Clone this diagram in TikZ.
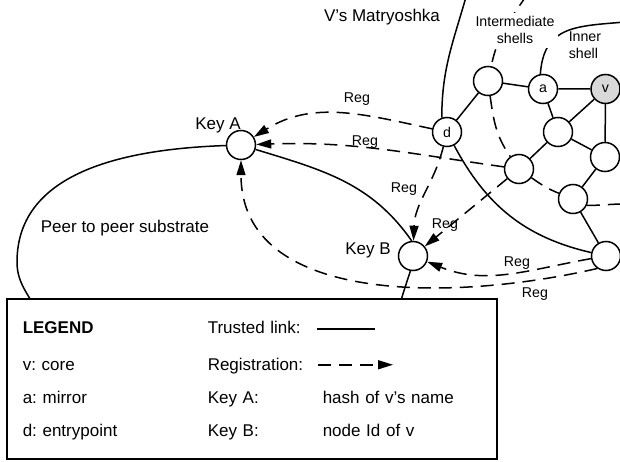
\documentclass[tikz,border=0pt]{standalone}
\usepackage{fontspec}
\setmainfont{Liberation Sans}
\usepackage{xcolor}
\usepackage{tikz}
\usetikzlibrary{arrows.meta,calc,positioning,matrix}
\definecolor{coregray}{RGB}{217,217,217}
\newcommand{\bigfont}{\fontsize{17}{20}\selectfont}
\newcommand{\smallfont}{\fontsize{14.2}{16.7}\selectfont}
\frenchspacing

\begin{document}
\begin{tikzpicture}[
    x=1pt, y=-1pt,
    line width=1.5pt,
    font=\bigfont,
    peer/.style={circle, draw, fill=white, minimum size=29pt, inner sep=0, font=\smallfont},
    txt/.style={inner sep=0, anchor=base},
    small/.style={txt, font=\smallfont},
    reg/.style={dash pattern=on 13pt off 8pt, -{Triangle[length=15pt, width=9pt]}},
    shell/.style={dash pattern=on 13pt off 8pt},
    legendtable/.style={
        matrix of nodes,
        anchor=north west,
        inner sep=0,
        row sep=17pt,
        column sep=0pt,
        nodes in empty cells,
        nodes={rectangle, inner sep=0, anchor=base west, text height=12pt, text depth=4pt, align=left},
    row 1 column 1/.style={nodes={font=\bigfont\bfseries}},
    column 1/.style={nodes={text width=185pt}},
    column 2/.style={nodes={text width=115pt}},
    column 3/.style={nodes={text width=150pt}}   }]
\useasboundingbox (0,0) rectangle (620,462);

\node[peer] (keyA) at (241,145) {};
\node[peer] (keyB) at (413,256) {};
\node[peer] (d) at (447,132) {d};
\node[peer] (mid1) at (488,81) {};
\node[peer] (a) at (543,89) {a};
\node[peer, fill=coregray] (v) at (605.5,89) {v};
\node[peer] (in1) at (558,132) {};
\node[peer] (in2) at (605,157) {};
\node[peer] (mid2) at (519,169) {};
\node[peer] (mid3) at (573,199) {};
\node[peer] (out1) at (606,256) {};

\coordinate (outerTop) at (466,-3);
\coordinate (midTop) at (527,-5);
\coordinate (midEnd) at (625,204);
\coordinate (innerEnd) at (625,22);
\coordinate (subW) at (17,262);
\coordinate (subSW) at (40,318);
\coordinate (subSE) at (396,318);

\path[draw] (d) -- (mid1) -- (a) -- (v);
\path[draw] (a) -- (in1) -- (v) -- (in2) -- (mid3) -- (out1);
\path[draw] (mid2) -- (in1) -- (in2);

\path[draw] (outerTop) to[out=-106, in=90] (d.110);
\path[draw] (d.-62) to[out=-62, in=167] (out1.167);
\path[draw] (a.100) to[out=86, in=185, looseness=1.25] (innerEnd);
\path[draw, shell] (midTop) to[out=-125, in=78] (mid1.78)
    (mid1.-82) to[out=-82, in=125] (mid2.125)
    (mid2.-35) to[out=-35, in=158] (mid3.158)
    (mid3.-25) to[out=0, in=180] (midEnd);

\path[draw, reg] (d) to[out=168, in=32] (keyA);
\path[draw, reg] (mid2) to[out=172, in=2] (keyA);
\path[draw, reg] (d) to[out=-104, in=88] (keyB);
\path[draw, reg] (mid2) -- (keyB);
\path[draw, reg] (out1) to[out=190, in=-22] (keyB);
\path[draw, reg] (out1.-125) to[out=193, in=-90] (keyA);

\path[draw] (keyA) to[out=-17, in=125] (keyB.95);
\path[draw] (keyB.-100) to[out=-108, in=75] (subSE);
\path[draw] (keyA) to[out=182, in=90] (subW) to[out=-90, in=112] (subSW);

\node[txt] (keyAtxt) at (218,130) {Key A};
\node[txt] (keyBtxt) at (368,254) {Key B};
\node[txt] (title) at (382,22) {V’s Matryoshka};
\node[txt] (substrate) at (125,232) {Peer to peer substrate};
\node[small, align=center, fill=white, inner sep=4pt] (midtxt) at (515,43.6) {Intermediate\\shells};
\node[small, align=left, anchor=base west] (innertxt) at (568,58.6) {Inner\\shell};
\node[small] (reg1) at (357,103) {Reg};
\node[small] (reg2) at (365,146) {Reg};
\node[small] (reg3) at (404,193) {Reg};
\node[small] (reg4) at (445,228) {Reg};
\node[small] (reg5) at (517,266) {Reg};
\node[small] (reg6) at (535,297) {Reg};

\path[draw, fill=white] (7,299) rectangle (497,459);
\matrix (legend) [legendtable, ampersand replacement=\&] at (22,321) {
 LEGEND        \& Trusted link: \&                  \\[4pt]
 v: core       \& Registration: \&                  \\
 a: mirror     \& Key A:        \& hash of v’s name \\
 d: entrypoint \& Key B:        \& node Id of v     \\
};
\path[draw] ([xshift=-5pt, yshift=5pt]legend-1-3.base west) -- ([xshift=53pt, yshift=5pt]legend-1-3.base west);
\path[draw, reg] ([xshift=-4pt, yshift=6pt]legend-2-3.base west) -- ([xshift=71pt, yshift=6pt]legend-2-3.base west);

\end{tikzpicture}
\end{document}
